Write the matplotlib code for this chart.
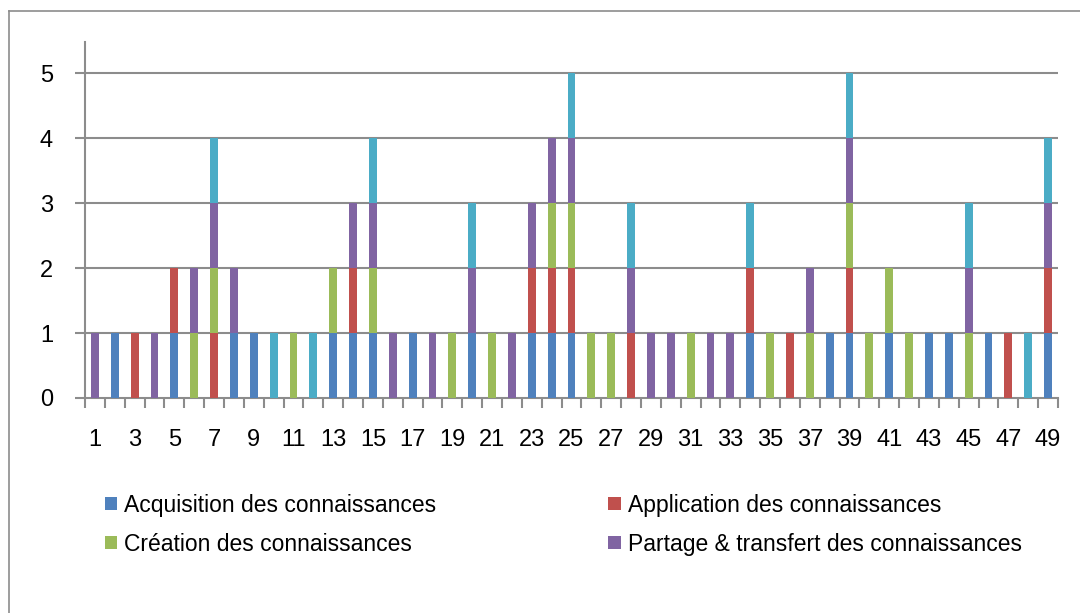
import matplotlib.pyplot as plt
import numpy as np
from matplotlib.lines import Line2D

plt.rcParams['font.family'] = ['Liberation Sans', 'DejaVu Sans']

# categories 1..49, every series is 0 or 1 per category
categories = list(range(1, 50))
series_names = ["Acquisition des connaissances", "Application des connaissances",
                "Création des connaissances", "Partage & transfert des connaissances",
                "Autre"]
acquisition = [0, 1, 0, 0, 1, 0, 0, 1, 1, 0, 0, 0, 1, 1, 1, 0, 1, 0, 0, 1, 0, 0, 1, 1, 1,
               0, 0, 0, 0, 0, 0, 0, 0, 1, 0, 0, 0, 1, 1, 0, 1, 0, 1, 1, 0, 1, 0, 0, 1]
application = [0, 0, 1, 0, 1, 0, 1, 0, 0, 0, 0, 0, 0, 1, 0, 0, 0, 0, 0, 0, 0, 0, 1, 1, 1,
               0, 0, 1, 0, 0, 0, 0, 0, 1, 0, 1, 0, 0, 1, 0, 0, 0, 0, 0, 0, 0, 1, 0, 1]
creation = [0, 0, 0, 0, 0, 1, 1, 0, 0, 0, 1, 0, 1, 0, 1, 0, 0, 0, 1, 0, 1, 0, 0, 1, 1,
            1, 1, 0, 0, 0, 1, 0, 0, 0, 1, 0, 1, 0, 1, 1, 1, 1, 0, 0, 1, 0, 0, 0, 0]
partage = [1, 0, 0, 1, 0, 1, 1, 1, 0, 0, 0, 0, 0, 1, 1, 1, 0, 1, 0, 1, 0, 1, 1, 1, 1,
           0, 0, 1, 1, 1, 0, 1, 1, 0, 0, 0, 1, 0, 1, 0, 0, 0, 0, 0, 1, 0, 0, 0, 1]
autre = [0, 0, 0, 0, 0, 0, 1, 0, 0, 1, 0, 1, 0, 0, 1, 0, 0, 0, 0, 1, 0, 0, 0, 0, 1,
         0, 0, 1, 0, 0, 0, 0, 0, 1, 0, 0, 0, 0, 1, 0, 0, 0, 0, 0, 1, 0, 0, 1, 1]
colors = ["#4F81BD", "#C0504D", "#9BBB59", "#8064A2", "#4BACC6"]

fig = plt.figure(figsize=(10.8, 6.13), dpi=100)
ax = fig.add_axes([85 / 1080, 1 - 398 / 613, (1058 - 85) / 1080, (398 - 42) / 613])

x = np.array(categories)
bottom = np.zeros(len(categories))
bars = []
for vals, c, name in zip([acquisition, application, creation, partage, autre], colors, series_names):
    b = ax.bar(x, vals, 0.4, bottom=bottom, color=c, label=name, zorder=3)
    bars.append(b)
    bottom += np.array(vals)

ax.set_xlim(0.5, 49.5)
ax.set_ylim(0, 5.48)
ax.set_yticks(range(6))
for y in range(1, 6):
    ax.axhline(y, color="#8c8c8c", lw=1.5, zorder=1)

ax.set_xticks(categories[::2])
ax.set_xticks(np.arange(0.5, 50, 1), minor=True)
ax.tick_params(axis="x", which="major", length=0, labelsize=17, pad=22)
ax.tick_params(axis="x", which="minor", length=7, width=1.5, color="#8c8c8c")
ax.tick_params(axis="y", length=7, width=1.5, color="#8c8c8c", labelsize=17, pad=16)

for s in ["top", "right"]:
    ax.spines[s].set_visible(False)
for s in ["left", "bottom"]:
    ax.spines[s].set_color("#8c8c8c")
    ax.spines[s].set_linewidth(1.5)

# legend shows only the first four series, filled row by row
order = [0, 2, 1, 3]
fig.legend([bars[i] for i in order], [series_names[i] for i in order], ncol=2,
           loc="upper left", bbox_to_anchor=(84 / 1080, 1 - 473 / 613), frameon=False,
           fontsize=16.5, handlelength=0.55, handleheight=0.55, handletextpad=0.3,
           columnspacing=7.5, labelspacing=0.7)

# outer chart frame (left and top edges visible)
fig.add_artist(Line2D([9 / 1080, 9 / 1080], [0, 1 - 11 / 613], color="#8c8c8c", lw=1.2))
fig.add_artist(Line2D([9 / 1080, 1], [1 - 11 / 613, 1 - 11 / 613], color="#8c8c8c", lw=1.2))

fig.savefig("out.png", dpi=100)
